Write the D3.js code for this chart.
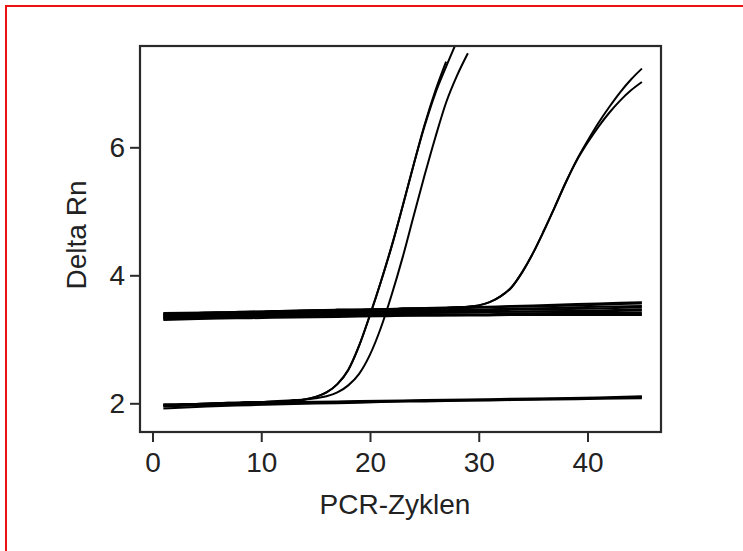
<!DOCTYPE html>
<html><head><meta charset="utf-8">
<script src="https://cdn.jsdelivr.net/npm/d3@7"></script>
<style>html,body{margin:0;padding:0;background:#fff;}svg{display:block;}</style>
</head><body>
<svg id="c" width="743" height="551"></svg>
<script>
// ---- data ----
const xTicks = [0, 10, 20, 30, 40];
const yTicks = [2, 4, 6];
const xLabel = "PCR-Zyklen";
const yLabel = "Delta Rn";

const cycles = d3.range(1, 46); // 1..45
const sparseCycles = [1, 5, 9, 13, 17, 21, 25, 29, 33, 37, 41, 45];

// amplification curves (one value per cycle)
const ampA1 = [1.96,1.97,1.98,1.98,1.99,2.00,2.00,2.01,2.01,2.02,2.02,2.03,2.04,2.06,2.10,2.17,2.30,2.52,2.90,3.38,3.90,4.46,5.08,5.72,6.34,6.88,7.34];
const ampA2 = [1.97,1.97,1.98,1.99,1.99,2.00,2.01,2.01,2.02,2.02,2.03,2.03,2.04,2.06,2.10,2.17,2.30,2.52,2.90,3.38,3.90,4.46,5.08,5.72,6.32,6.84,7.26,7.66];
const ampB  = [1.98,1.98,1.99,1.99,2.00,2.00,2.01,2.01,2.02,2.02,2.03,2.04,2.05,2.06,2.08,2.11,2.17,2.28,2.46,2.76,3.18,3.70,4.28,4.92,5.55,6.15,6.70,7.12,7.47];
const ampC1 = [3.40,3.40,3.41,3.41,3.42,3.42,3.42,3.43,3.43,3.43,3.44,3.44,3.44,3.45,3.45,3.45,3.46,3.46,3.46,3.47,3.47,3.47,3.48,3.48,3.48,3.49,3.49,3.50,3.51,3.53,3.58,3.67,3.81,4.05,4.35,4.70,5.07,5.45,5.80,6.10,6.38,6.63,6.86,7.06,7.23];
const ampC2 = [3.39,3.40,3.40,3.41,3.41,3.42,3.42,3.42,3.43,3.43,3.44,3.44,3.44,3.44,3.45,3.45,3.46,3.46,3.46,3.46,3.47,3.47,3.48,3.48,3.48,3.48,3.49,3.50,3.51,3.53,3.58,3.67,3.81,4.05,4.35,4.70,5.07,5.45,5.79,6.07,6.32,6.54,6.73,6.89,7.02];

// flat (non-amplifying) wells, sampled at sparseCycles
const flatHigh = [
  [3.41,3.42,3.43,3.45,3.46,3.47,3.49,3.50,3.52,3.54,3.56,3.58],
  [3.38,3.40,3.42,3.43,3.44,3.46,3.47,3.49,3.51,3.52,3.54,3.56],
  [3.36,3.38,3.40,3.41,3.42,3.44,3.45,3.46,3.48,3.49,3.51,3.52],
  [3.35,3.37,3.38,3.40,3.41,3.42,3.44,3.45,3.46,3.47,3.48,3.50],
  [3.33,3.35,3.36,3.38,3.39,3.40,3.41,3.42,3.43,3.44,3.45,3.47],
  [3.37,3.38,3.39,3.40,3.41,3.41,3.42,3.43,3.43,3.44,3.44,3.45],
  [3.32,3.33,3.35,3.36,3.37,3.38,3.39,3.39,3.40,3.41,3.41,3.42],
  [3.30,3.32,3.33,3.34,3.35,3.36,3.37,3.37,3.38,3.39,3.39,3.40],
  [3.34,3.35,3.36,3.36,3.37,3.37,3.37,3.38,3.38,3.38,3.38,3.38]
];
const flatLow = [
  [1.95,1.97,1.99,2.00,2.02,2.03,2.04,2.05,2.06,2.07,2.08,2.10],
  [1.92,1.95,1.97,1.99,2.00,2.02,2.03,2.04,2.05,2.06,2.07,2.08],
  [1.98,1.99,2.01,2.02,2.03,2.04,2.05,2.06,2.07,2.08,2.09,2.11]
];

// ---- drawing ----
const svg = d3.select("#c");
const plot = {left: 140, right: 661, top: 46, bottom: 432};

// red page frame
svg.append("path").attr("d", "M6,560V6H760").attr("fill", "none").attr("stroke", "#ee1111").attr("stroke-width", 2);

const x = d3.scaleLinear().domain([0, 40]).range([152.5, 587.5]);
const y = d3.scaleLinear().domain([2, 6]).range([403.3, 147.3]);

svg.append("clipPath").attr("id", "clip").append("rect")
  .attr("x", plot.left).attr("y", plot.top)
  .attr("width", plot.right - plot.left).attr("height", plot.bottom - plot.top);

const line = d3.line().x(d => x(d[0])).y(d => y(d[1])).curve(d3.curveMonotoneX);
const g = svg.append("g").attr("clip-path", "url(#clip)");

const series = [];
flatHigh.forEach(s => series.push(s.map((v, i) => [sparseCycles[i], v])));
flatLow.forEach(s => series.push(s.map((v, i) => [sparseCycles[i], v])));
[ampC1, ampC2, ampA1, ampA2, ampB].forEach(s => series.push(s.map((v, i) => [cycles[i], v])));

g.selectAll("path.curve").data(series).join("path")
  .attr("class", "curve")
  .attr("d", line)
  .attr("fill", "none")
  .attr("stroke", "#000")
  .attr("stroke-width", 2);

// frame
svg.append("rect").attr("x", plot.left).attr("y", plot.top)
  .attr("width", plot.right - plot.left).attr("height", plot.bottom - plot.top)
  .attr("fill", "none").attr("stroke", "#2a2a2a").attr("stroke-width", 2.2);

const fontFam = "'Liberation Sans', Arial, Helvetica, sans-serif";

// x axis
const xAxis = d3.axisBottom(x).tickValues(xTicks).tickFormat(d3.format("d")).tickSize(10).tickPadding(10).tickSizeOuter(0);
const gx = svg.append("g").attr("transform", `translate(0,${plot.bottom})`).call(xAxis);
gx.select(".domain").remove();
gx.selectAll(".tick line").attr("stroke", "#2a2a2a").attr("stroke-width", 2);
gx.selectAll(".tick text").attr("font-family", fontFam).attr("font-size", 28).attr("fill", "#222");

// y axis
const yAxis = d3.axisLeft(y).tickValues(yTicks).tickFormat(d3.format("d")).tickSize(10).tickPadding(5).tickSizeOuter(0);
const gy = svg.append("g").attr("transform", `translate(${plot.left},0)`).call(yAxis);
gy.select(".domain").remove();
gy.selectAll(".tick line").attr("stroke", "#2a2a2a").attr("stroke-width", 2);
gy.selectAll(".tick text").attr("font-family", fontFam).attr("font-size", 28).attr("fill", "#222");

// axis titles
svg.append("text").attr("x", 395).attr("y", 514).attr("text-anchor", "middle")
  .attr("font-family", fontFam).attr("font-size", 28).attr("fill", "#222").text(xLabel);
svg.append("text").attr("transform", "translate(86,235) rotate(-90)").attr("text-anchor", "middle")
  .attr("font-family", fontFam).attr("font-size", 28).attr("fill", "#222").text(yLabel);
</script>
</body></html>
